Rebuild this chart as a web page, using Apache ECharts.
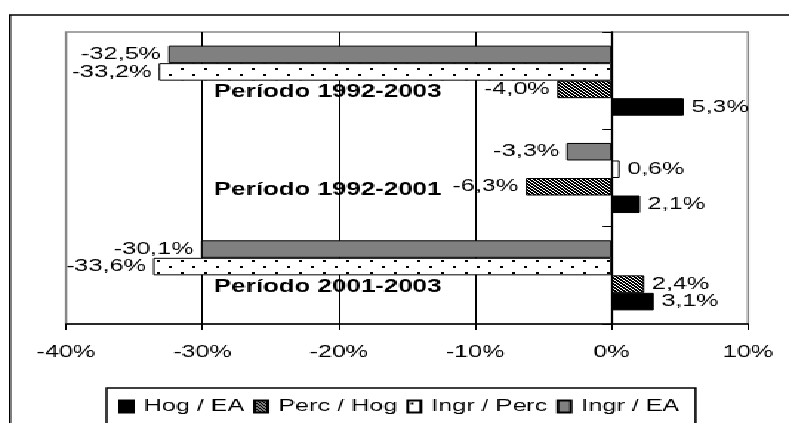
<!DOCTYPE html>
<html><head><meta charset="utf-8">
<script src="https://cdn.jsdelivr.net/npm/echarts@6/dist/echarts.min.js"></script>
<style>
html,body{margin:0;padding:0;overflow:hidden;background:#fff;}
#wrap{width:789px;height:423px;overflow:hidden;position:relative;}
#chart{width:533px;height:423px;transform:scaleX(1.4803);transform-origin:0 0;}
#chart canvas{image-rendering:pixelated;}
</style></head><body>
<div id="wrap"><div id="chart"></div></div>
<script>
const categories = ['Período 2001-2003', 'Período 1992-2001', 'Período 1992-2003'];
const legendNames = ['Hog / EA', 'Perc / Hog', 'Ingr / Perc', 'Ingr / EA'];
const hogEA = [3.1, 2.1, 5.3];
const percHog = [2.4, -6.3, -4.0];
const ingrPerc = [-33.6, 0.6, -33.2];
const ingrEA = [-30.1, -3.3, -32.5];
const xTickValues = [-40, -30, -20, -10, 0, 10];

const FONT = "'Liberation Sans', Arial, sans-serif";

function hatchPattern() {
  const c = document.createElement('canvas'); c.width = 3; c.height = 3;
  const g = c.getContext('2d');
  g.fillStyle = '#000'; g.fillRect(0, 0, 3, 3);
  g.fillStyle = '#fff';
  for (let i = 0; i < 3; i++) { g.fillRect(i, i, 1, 1); }
  return c;
}
function dotPattern() {
  const c = document.createElement('canvas'); c.width = 16; c.height = 12;
  const g = c.getContext('2d');
  g.fillStyle = '#fff'; g.fillRect(0, 0, 16, 12);
  g.fillStyle = '#000';
  g.fillRect(2, 2, 2, 2); g.fillRect(10, 8, 2, 2);
  return c;
}

// drawing order: top bar in each group first
const seriesDefs = [
  { name: 'Ingr / EA', data: ingrEA, fill: '#808080' },
  { name: 'Ingr / Perc', data: ingrPerc, fill: { image: dotPattern(), repeat: 'repeat' } },
  { name: 'Perc / Hog', data: percHog, fill: { image: hatchPattern(), repeat: 'repeat' } },
  { name: 'Hog / EA', data: hogEA, fill: '#000' }
];

const chart = echarts.init(document.getElementById('chart'), null, { renderer: 'canvas' });
chart.setOption({
  animation: false,
  backgroundColor: '#fff',
  textStyle: { fontFamily: FONT },
  graphic: [{
    type: 'rect', shape: { x: 6.75, y: 15, width: 700, height: 500 },
    style: { fill: 'none', stroke: '#000', lineWidth: 1.5 }, silent: true, z: 100
  }],
  grid: { left: 44.6, right: 27.7, top: 32, bottom: 99, containLabel: false, outerBoundsMode: 'none',
    show: true, borderColor: '#888', borderWidth: 1.5, backgroundColor: 'transparent' },
  legend: {
    data: legendNames, left: 72, top: 388, orient: 'horizontal',
    itemWidth: 9, itemHeight: 12, itemGap: 6,
    padding: [10, 11, 30, 8], borderColor: '#000', borderWidth: 1.5,
    icon: 'rect',
    textStyle: { fontSize: 17, fontFamily: FONT, color: '#000', padding: [0, 0, 0, 2] }
  },
  xAxis: {
    type: 'value', min: xTickValues[0], max: xTickValues[xTickValues.length - 1],
    interval: xTickValues[1] - xTickValues[0],
    axisLine: { show: true, lineStyle: { color: '#000', width: 1.5 } },
    axisTick: { show: true, length: 6, lineStyle: { color: '#000', width: 1 } },
    axisLabel: { formatter: v => v + '%', fontSize: 17, fontFamily: FONT, color: '#000', margin: 20 },
    splitLine: { show: true, showMinLine: false, showMaxLine: false, lineStyle: { color: '#000', width: 1 } }
  },
  yAxis: {
    type: 'category', data: categories,
    axisLine: { show: true, onZero: true, lineStyle: { color: '#000', width: 1.3 } },
    axisTick: { show: true, length: 6, lineStyle: { color: '#000', width: 1 } },
    axisLabel: { inside: true, fontWeight: 'bold', fontSize: 17.5, fontFamily: FONT, color: '#000', margin: 100,
      verticalAlign: 'top', padding: [3, 0, 0, 0] },
    splitLine: { show: false }
  },
  series: seriesDefs.map(s => ({
    name: s.name, type: 'bar', data: s.data,
    barGap: '0%', barCategoryGap: '28%',
    itemStyle: { color: s.fill, borderColor: '#000', borderWidth: 1 },
    label: {
      show: true, position: 'outside', distance: 5,
      fontSize: 17, fontFamily: FONT, color: '#000',
      formatter: p => p.value.toFixed(1).replace('.', ',') + '%'
    }
  }))
});
</script>
</body></html>
